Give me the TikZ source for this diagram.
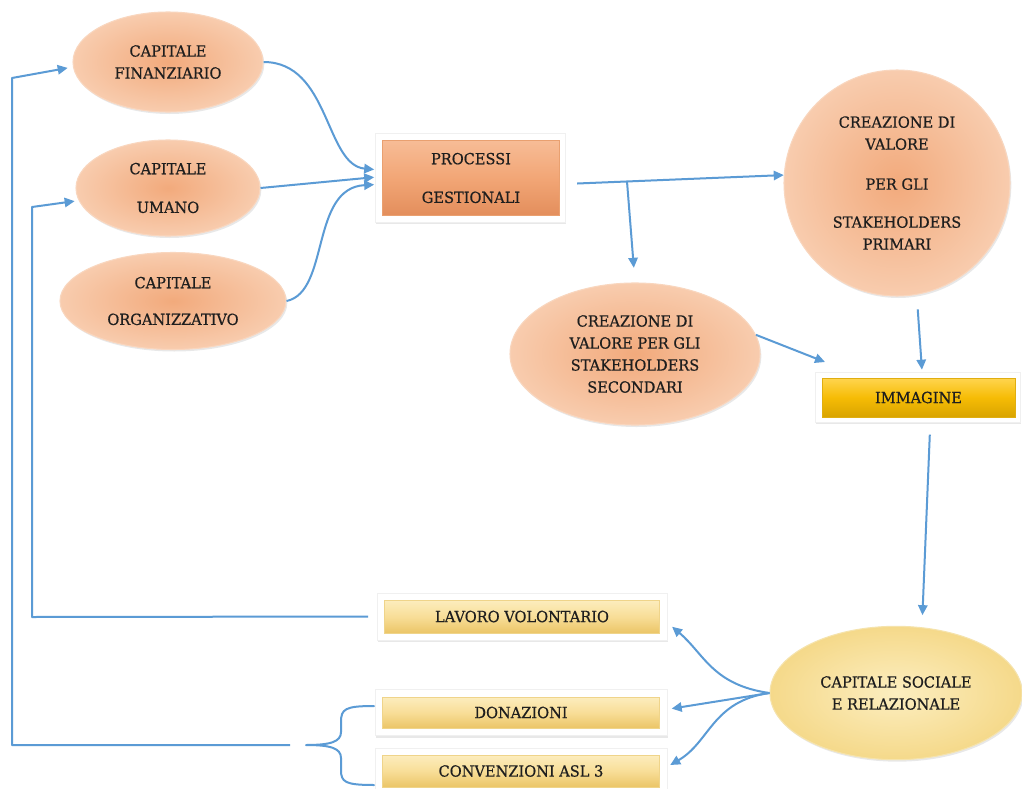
\documentclass[tikz,border=0pt]{standalone}
\usepackage{fontspec}
\setmainfont{DejaVu Serif}[FakeStretch=0.95,FakeBold=0.6]
\usetikzlibrary{shapes.geometric,arrows.meta,shadows}
\definecolor{arrowblue}{HTML}{5B9BD5}
\definecolor{textdark}{HTML}{1E1E1E}
\definecolor{peachin}{HTML}{F2AA7C}
\definecolor{peachout}{HTML}{F8CCAE}
\definecolor{peachrim}{HTML}{F9D6BE}
\definecolor{yelin}{HTML}{FCEEC0}
\definecolor{yelout}{HTML}{F5D98A}
\definecolor{yelrim}{HTML}{F5E3AC}
\definecolor{F7BC96c}{HTML}{F7BC96}
\definecolor{E38E5Cc}{HTML}{E38E5C}
\definecolor{F2A676c}{HTML}{F2A676}
\definecolor{E9A070c}{HTML}{E9A070}
\definecolor{FFD54Fc}{HTML}{FFD54F}
\definecolor{D9A400c}{HTML}{D9A400}
\definecolor{F6BC05c}{HTML}{F6BC05}
\definecolor{E0AE10c}{HTML}{E0AE10}
\definecolor{FCEDBEc}{HTML}{FCEDBE}
\definecolor{EBC567c}{HTML}{EBC567}
\definecolor{F8DE98c}{HTML}{F8DE98}
\definecolor{EFD48Ac}{HTML}{EFD48A}
\begin{document}
\begin{tikzpicture}[x=0.75pt,y=-0.75pt,
  txt/.style={font=\fontsize{11.5}{16.5}\selectfont, text=textdark, align=center},
  shad/.style={drop shadow={opacity=0.18, shadow xshift=1pt, shadow yshift=-1.5pt}},
  peachell/.style={txt, ellipse, inner sep=0pt, inner color=peachin, outer color=peachout, draw=peachrim, line width=0.8pt, shad},
  yelell/.style={txt, ellipse, inner sep=0pt, inner color=yelin, outer color=yelout, draw=yelrim, line width=0.8pt, shad},
  frame/.style={rectangle, fill=white, draw=black!6, line width=0.4pt, shad},
  procbox/.style={txt, rectangle, inner sep=0pt, top color=F7BC96c, bottom color=E38E5Cc, middle color=F2A676c, draw=E9A070c, line width=0.5pt},
  immbox/.style={txt, rectangle, inner sep=0pt, top color=FFD54Fc, bottom color=D9A400c, middle color=F6BC05c, draw=E0AE10c, line width=0.5pt},
  yelbox/.style={txt, rectangle, inner sep=0pt, top color=FCEDBEc, bottom color=EBC567c, middle color=F8DE98c, draw=EFD48Ac, line width=0.5pt},
  con/.style={draw=arrowblue, line width=1.5pt, line join=round},
  arr/.style={con, -{Triangle[length=7.5pt,width=7pt]}},
]
\useasboundingbox[fill=white] (0,0) rectangle (1022,789);

% capitals
\node[peachell, minimum width=142.5pt, minimum height=75pt] (fin) at (168,62) {CAPITALE\\FINANZIARIO};
\node[peachell, minimum width=138pt, minimum height=72pt] (uma) at (168,188) {CAPITALE\\[12.5pt]UMANO};
\node[peachell, minimum width=169.5pt, minimum height=72.75pt] (org) at (173,301) {CAPITALE\\[11pt]ORGANIZZATIVO};

% processi
\node[frame, minimum width=142.5pt, minimum height=66.75pt] (procf) at (470,177.5) {};
\node[procbox, minimum width=132.75pt, minimum height=56.25pt] (proc) at (471,178) {PROCESSI\\[12.5pt]GESTIONALI};

% primari
\node[peachell, circle, minimum size=169.5pt] (prim) at (897,183) {CREAZIONE DI\\VALORE\\[13.5pt]PER GLI\\[12pt]STAKEHOLDERS\\PRIMARI};

% secondari
\node[peachell, minimum width=187.5pt, minimum height=106.5pt] (sec) at (635,354) {CREAZIONE DI\\VALORE PER GLI\\STAKEHOLDERS\\SECONDARI};

% immagine
\node[frame, minimum width=153.75pt, minimum height=37.5pt] (immf) at (917.5,397) {};
\node[immbox, minimum width=144.75pt, minimum height=29.25pt] (imm) at (918.5,397.5) {IMMAGINE};

% sociale
\node[yelell, minimum width=189pt, minimum height=100pt] (soc) at (896,693) {CAPITALE SOCIALE\\E RELAZIONALE};

% yellow boxes
\node[frame, minimum width=217.5pt, minimum height=35.25pt] (lavf) at (522,616.5) {};
\node[yelbox, minimum width=206.25pt, minimum height=24.75pt] (lav) at (522,616.5) {LAVORO VOLONTARIO};
\node[frame, minimum width=219pt, minimum height=34.5pt] (donf) at (521,712.5) {};
\node[yelbox, minimum width=207.75pt, minimum height=23.25pt] (don) at (521,712.5) {DONAZIONI};
\node[frame, minimum width=219pt, minimum height=34.5pt] (convf) at (521,771) {};
\node[yelbox, minimum width=207.75pt, minimum height=24pt] (conv) at (521,771) {CONVENZIONI ASL 3};

% coordinates for free ends / corners
\coordinate (c1) at (32,617);
\coordinate (c2) at (32,207);
\coordinate (c3) at (12,745);
\coordinate (c4) at (12,78);
\coordinate (bl) at (290,745);
\coordinate (btip) at (306,745);
\coordinate (bA) at (374,706);
\coordinate (bB) at (374,785);
\coordinate (secimm) at (825,362);

% capitals -> processi
\draw[arr, shorten >=6pt] (fin.east) .. controls (330,62) and (325,165) .. (proc.175);
\draw[arr, shorten >=6pt] (uma.east) -- (proc.179);
\draw[arr, shorten >=6pt] (org.east) .. controls (330,292) and (310,188) .. (proc.184);

% processi -> primari, branch to secondari
\draw[arr, shorten <=13pt] (proc.-4) -- (prim.176) coordinate[pos=0.3] (br);
\draw[arr, shorten >=11pt] (br) -- (sec.north);

% to immagine
\draw[arr] (sec.9) -- (secimm);
\draw[arr, shorten <=11pt, shorten >=6pt] (prim.-80) -- ([xshift=3pt]imm.north);

% immagine -> sociale
\draw[arr, shorten <=13pt, shorten >=8pt] ([xshift=9pt]imm.south) -- ([xshift=19.5pt]soc.north);

% sociale -> boxes
\draw[arr, shorten >=12pt] (soc.west) to[out=172, in=-40, looseness=1.1] (lav.east);
\draw[arr, shorten >=9pt] (soc.west) -- ([yshift=1.5pt]don.east);
\draw[arr, shorten >=9pt] (soc.west) to[out=188, in=30, looseness=1.1] (conv.east);

% feedback lines
\draw[arr, shorten <=12pt, shorten >=3pt] (lav.west) -- (c1) -- (c2) -- (uma.188);
\draw[arr, shorten >=4pt] (bl) -- (c3) -- (c4) -- (fin.183);

% brace
\draw[con, line cap=round] (bA) .. controls (345,706) and (341,709) .. (341,722) -- (341,732)
  .. controls (341,742) and (330,745) .. (btip)
  .. controls (330,745) and (341,748) .. (341,758) -- (341,770)
  .. controls (341,782) and (345,785) .. (bB);
\end{tikzpicture}
\end{document}
